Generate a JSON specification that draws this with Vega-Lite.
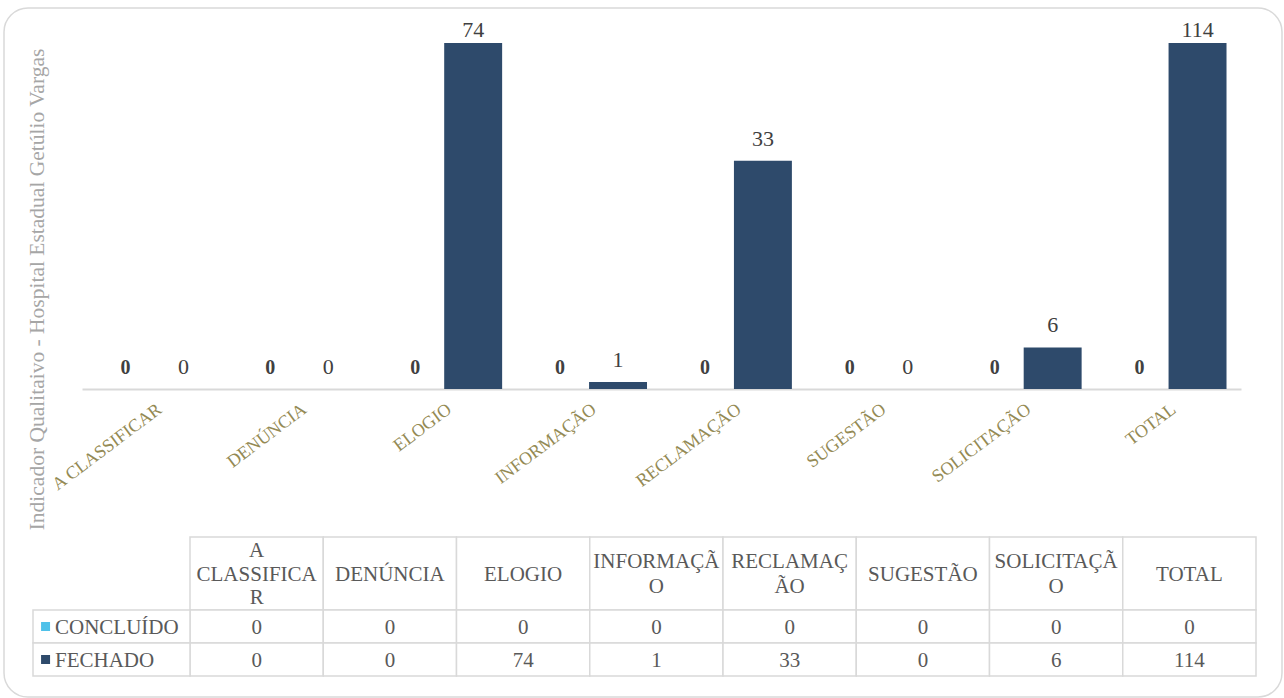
{
  "$schema": "https://vega.github.io/schema/vega-lite/v6.json",
  "width": 1278,
  "height": 689,
  "autosize": {"type": "none"},
  "padding": {"left": 4, "top": 8, "right": 2, "bottom": 1},
  "background": "white",
  "config": {
    "view": {"stroke": "#D9D9D9", "strokeWidth": 1.5, "cornerRadius": 24},
    "font": "Liberation Serif"
  },
  "datasets": {
    "bars": [
      {"cat": "A CLASSIFICAR", "series": "CONCLUÍDO", "value": 0},
      {"cat": "A CLASSIFICAR", "series": "FECHADO", "value": 0},
      {"cat": "DENÚNCIA", "series": "CONCLUÍDO", "value": 0},
      {"cat": "DENÚNCIA", "series": "FECHADO", "value": 0},
      {"cat": "ELOGIO", "series": "CONCLUÍDO", "value": 0},
      {"cat": "ELOGIO", "series": "FECHADO", "value": 74},
      {"cat": "INFORMAÇÃO", "series": "CONCLUÍDO", "value": 0},
      {"cat": "INFORMAÇÃO", "series": "FECHADO", "value": 1},
      {"cat": "RECLAMAÇÃO", "series": "CONCLUÍDO", "value": 0},
      {"cat": "RECLAMAÇÃO", "series": "FECHADO", "value": 33},
      {"cat": "SUGESTÃO", "series": "CONCLUÍDO", "value": 0},
      {"cat": "SUGESTÃO", "series": "FECHADO", "value": 0},
      {"cat": "SOLICITAÇÃO", "series": "CONCLUÍDO", "value": 0},
      {"cat": "SOLICITAÇÃO", "series": "FECHADO", "value": 6},
      {"cat": "TOTAL", "series": "CONCLUÍDO", "value": 0},
      {"cat": "TOTAL", "series": "FECHADO", "value": 114}
    ],
    "hdr": [
      {"cat": "A CLASSIFICAR", "label": "A\nCLASSIFICA\nR", "row": "h"},
      {"cat": "DENÚNCIA", "label": "DENÚNCIA", "row": "h"},
      {"cat": "ELOGIO", "label": "ELOGIO", "row": "h"},
      {"cat": "INFORMAÇÃO", "label": "INFORMAÇÃ\nO", "row": "h"},
      {"cat": "RECLAMAÇÃO", "label": "RECLAMAÇ\nÃO", "row": "h"},
      {"cat": "SUGESTÃO", "label": "SUGESTÃO", "row": "h"},
      {"cat": "SOLICITAÇÃO", "label": "SOLICITAÇÃ\nO", "row": "h"},
      {"cat": "TOTAL", "label": "TOTAL", "row": "h"}
    ],
    "leg": [
      {"series": "CONCLUÍDO", "col": "L"},
      {"series": "FECHADO", "col": "L"}
    ]
  },
  "layer": [
    {
      "data": {"name": "bars"},
      "encoding": {
        "x": {
          "field": "cat", "type": "nominal",
          "sort": ["A CLASSIFICAR", "DENÚNCIA", "ELOGIO", "INFORMAÇÃO", "RECLAMAÇÃO", "SUGESTÃO", "SOLICITAÇÃO", "TOTAL"],
          "scale": {"range": [78, 1237], "paddingInner": 0, "paddingOuter": 0},
          "axis": {
            "title": null, "offset": -308, "ticks": false,
            "domain": true, "domainColor": "#D9D9D9", "domainWidth": 2,
            "labelAngle": -37, "labelColor": "#948A54", "labelFont": "Liberation Serif",
            "labelFontSize": 18, "labelPadding": 11, "grid": false
          }
        },
        "xOffset": {"field": "series", "type": "nominal", "scale": {"paddingInner": 0, "paddingOuter": 0.25}},
        "y": {
          "field": "value", "type": "quantitative",
          "scale": {"domain": [0, 50], "range": [381, 35], "clamp": true, "nice": false, "zero": true},
          "axis": {
            "title": "Indicador Qualitaivo - Hospital Estadual Getúlio Vargas",
            "labels": false, "ticks": false, "domain": false, "grid": false,
            "titleColor": "#A6A6A6", "titleFont": "Liberation Serif", "titleFontSize": 21.5,
            "titleFontWeight": "normal", "titleX": 39, "titleY": 281, "titleAngle": -90,
            "titleBaseline": "alphabetic", "titleAlign": "center"
          }
        }
      },
      "layer": [
        {
          "mark": {"type": "bar"},
          "encoding": {
            "color": {"field": "series", "type": "nominal", "scale": {"domain": ["CONCLUÍDO", "FECHADO"], "range": ["#4FC1E9", "#2E4A6B"]}, "legend": null}
          }
        },
        {
          "transform": [{"filter": "datum.series == 'FECHADO' && datum.value <= 50"}],
          "mark": {"type": "text", "baseline": "alphabetic", "dy": -15, "fontSize": 22, "color": "#404040", "font": "Liberation Serif"},
          "encoding": {"text": {"field": "value", "type": "quantitative"}}
        },
        {
          "transform": [{"filter": "datum.series == 'FECHADO' && datum.value > 50"}],
          "mark": {"type": "text", "baseline": "alphabetic", "dy": -6, "fontSize": 22, "color": "#404040", "font": "Liberation Serif"},
          "encoding": {"text": {"field": "value", "type": "quantitative"}}
        },
        {
          "transform": [{"filter": "datum.series == 'CONCLUÍDO'"}],
          "mark": {"type": "text", "baseline": "alphabetic", "dy": -15, "fontSize": 20, "fontWeight": "bold", "color": "#404040", "font": "Liberation Serif"},
          "encoding": {"text": {"field": "value", "type": "quantitative"}}
        }
      ]
    },
    {
      "data": {"name": "hdr"},
      "encoding": {
        "x": {
          "field": "cat", "type": "nominal",
          "sort": ["A CLASSIFICAR", "DENÚNCIA", "ELOGIO", "INFORMAÇÃO", "RECLAMAÇÃO", "SUGESTÃO", "SOLICITAÇÃO", "TOTAL"],
          "scale": {"range": [186, 1252], "paddingInner": 0, "paddingOuter": 0},
          "axis": null
        },
        "y": {"field": "row", "type": "nominal", "scale": {"range": [529, 602], "paddingInner": 0, "paddingOuter": 0}, "axis": null}
      },
      "layer": [
        {"mark": {"type": "rect", "fill": "white", "stroke": "#D9D9D9", "strokeWidth": 1.5}},
        {
          "transform": [{"filter": "length(split(datum.label, '\\n')) == 1"}],
          "mark": {"type": "text", "lineBreak": "\n", "lineHeight": 23.5, "fontSize": 21, "color": "#595959", "font": "Liberation Serif", "baseline": "middle", "dy": 1},
          "encoding": {"text": {"field": "label", "type": "nominal"}}
        },
        {
          "transform": [{"filter": "length(split(datum.label, '\\n')) == 2"}],
          "mark": {"type": "text", "lineBreak": "\n", "lineHeight": 24.5, "fontSize": 21, "color": "#595959", "font": "Liberation Serif", "baseline": "middle", "dy": -11.5},
          "encoding": {"text": {"field": "label", "type": "nominal"}}
        },
        {
          "transform": [{"filter": "length(split(datum.label, '\\n')) == 3"}],
          "mark": {"type": "text", "lineBreak": "\n", "lineHeight": 23.5, "fontSize": 21, "color": "#595959", "font": "Liberation Serif", "baseline": "middle", "dy": -22.5},
          "encoding": {"text": {"field": "label", "type": "nominal"}}
        }
      ]
    },
    {
      "data": {"name": "bars"},
      "encoding": {
        "x": {
          "field": "cat", "type": "nominal",
          "sort": ["A CLASSIFICAR", "DENÚNCIA", "ELOGIO", "INFORMAÇÃO", "RECLAMAÇÃO", "SUGESTÃO", "SOLICITAÇÃO", "TOTAL"],
          "scale": {"range": [186, 1252], "paddingInner": 0, "paddingOuter": 0},
          "axis": null
        },
        "y": {"field": "series", "type": "nominal", "scale": {"range": [602, 668], "paddingInner": 0, "paddingOuter": 0}, "axis": null}
      },
      "layer": [
        {"mark": {"type": "rect", "fill": "white", "stroke": "#D9D9D9", "strokeWidth": 1.5}},
        {
          "mark": {"type": "text", "fontSize": 21, "color": "#595959", "font": "Liberation Serif", "baseline": "middle", "dy": 1},
          "encoding": {"text": {"field": "value", "type": "quantitative"}}
        }
      ]
    },
    {
      "data": {"name": "leg"},
      "encoding": {
        "y": {"field": "series", "type": "nominal", "scale": {"range": [602, 668], "paddingInner": 0, "paddingOuter": 0}, "axis": null}
      },
      "layer": [
        {
          "mark": {"type": "rect", "fill": "white", "stroke": "#D9D9D9", "strokeWidth": 1.5},
          "encoding": {"x": {"field": "col", "type": "nominal", "scale": {"range": [29, 186], "paddingInner": 0, "paddingOuter": 0}, "axis": null}}
        },
        {
          "mark": {"type": "point", "shape": "square", "filled": true, "size": 81, "opacity": 1},
          "encoding": {
            "x": {"field": "col", "type": "nominal", "bandPosition": 0.08, "axis": null},
            "color": {"field": "series", "type": "nominal", "scale": {"domain": ["CONCLUÍDO", "FECHADO"], "range": ["#4FC1E9", "#2E4A6B"]}, "legend": null}
          }
        },
        {
          "mark": {"type": "text", "align": "left", "fontSize": 21, "color": "#595959", "font": "Liberation Serif", "baseline": "middle", "dy": 1},
          "encoding": {
            "x": {"field": "col", "type": "nominal", "bandPosition": 0.14, "axis": null},
            "text": {"field": "series", "type": "nominal"}
          }
        }
      ]
    }
  ],
  "resolve": {"scale": {"x": "independent", "y": "independent"}}
}
